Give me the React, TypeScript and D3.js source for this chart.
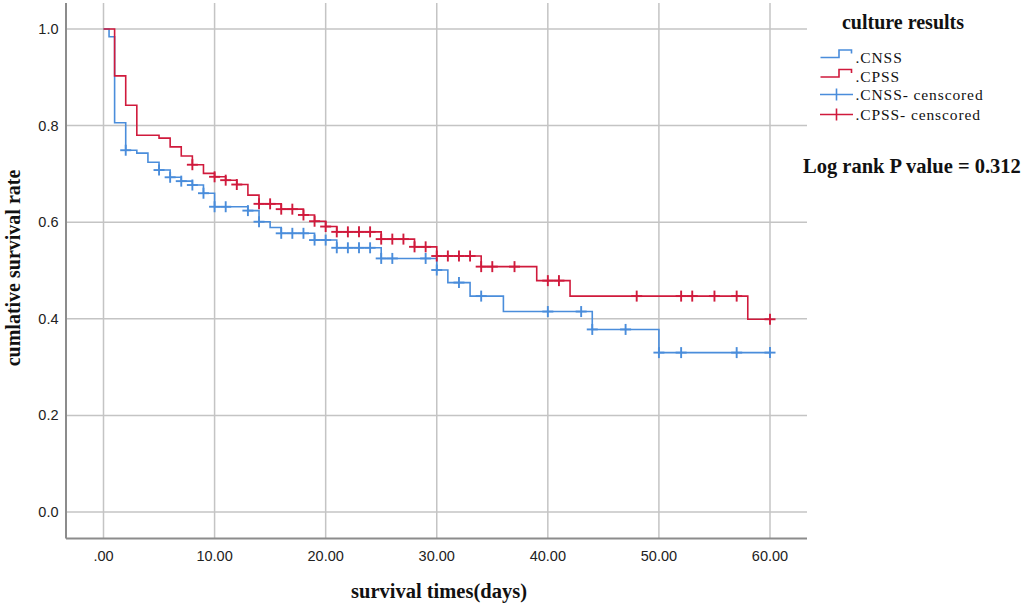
import React from "react";
import * as d3 from "d3";

// CNSS group: step times and survival after each step
const cnssTimes = [0, 0.5, 1, 2, 3, 4, 5, 6, 7, 8, 9, 10, 13, 14, 15, 16, 19, 21, 25, 30, 31, 33, 36, 44, 50];
const cnssSurv = [1.0, 0.984, 0.806, 0.749, 0.743, 0.724, 0.708, 0.693, 0.685, 0.677, 0.66, 0.632, 0.624, 0.601, 0.589, 0.577, 0.563, 0.547, 0.525, 0.501, 0.475, 0.447, 0.415, 0.378, 0.33];
const cnssCensored = [2, 5, 6, 7, 8, 9, 10, 11, 13, 14, 16, 17, 18, 19, 20, 21, 22, 23, 24, 25, 26, 29, 30, 32, 34, 40, 43, 44, 47, 50, 52, 57, 60];

// CPSS group
const cpssTimes = [0, 1, 2, 3, 5, 6, 7, 8, 9, 10, 11, 12, 13, 14, 16, 18, 19, 20, 21, 25, 28, 30, 34, 39, 42, 58];
const cpssSurv = [1.0, 0.903, 0.842, 0.78, 0.774, 0.756, 0.737, 0.719, 0.701, 0.694, 0.687, 0.678, 0.656, 0.638, 0.627, 0.615, 0.602, 0.591, 0.58, 0.565, 0.549, 0.53, 0.508, 0.479, 0.447, 0.399];
const cpssCensored = [8, 10, 11, 12, 14, 15, 16, 17, 18, 19, 20, 21, 22, 23, 24, 25, 26, 27, 28, 29, 30, 31, 32, 33, 34, 35, 37, 40, 41, 48, 52, 53, 55, 57, 60];

const maxTime = 60;
const xTicks = [0, 10, 20, 30, 40, 50, 60];
const yTicks = [0, 0.2, 0.4, 0.6, 0.8, 1.0];
const xTickLabel = (v: number) => (v === 0 ? ".00" : v.toFixed(2));

const BLUE = "#4a8ddb";
const RED = "#d01a3c";

export default function App() {
  const x = d3.scaleLinear().domain([0, 60]).range([103.5, 770]);
  const y = d3.scaleLinear().domain([0, 1]).range([512, 29]);

  const axisLeft = 66;
  const axisBottom = 538.5;
  const plotTop = 3;
  const plotRight = 807;

  const line = d3
    .line<[number, number]>()
    .x((d) => x(d[0]))
    .y((d) => y(d[1]))
    .curve(d3.curveStepAfter);

  const makePts = (t: number[], s: number[]): [number, number][] => {
    const pts = t.map((tt, i) => [tt, s[i]] as [number, number]);
    pts.push([maxTime, s[s.length - 1]]);
    return pts;
  };
  const survAt = (t: number[], s: number[], time: number) => {
    const i = d3.bisectRight(t, time) - 1;
    return s[Math.max(0, i)];
  };

  const groups = [
    { times: cnssTimes, surv: cnssSurv, cens: cnssCensored, color: BLUE },
    { times: cpssTimes, surv: cpssSurv, cens: cpssCensored, color: RED },
  ];

  const legendItems = [
    { label: ".CNSS", color: BLUE, kind: "step" },
    { label: ".CPSS", color: RED, kind: "step" },
    { label: ".CNSS- censcored", color: BLUE, kind: "plus" },
    { label: ".CPSS- censcored", color: RED, kind: "plus" },
  ];
  const legendY = [57.5, 77, 94.5, 114.5];

  return (
    <div style={{ position: "absolute", left: 0, top: 0 }}>
      <svg width={1026} height={605} style={{ display: "block", background: "#fff" }}>
        {/* grid */}
        {xTicks.map((t) => (
          <line key={"gx" + t} x1={x(t)} x2={x(t)} y1={plotTop} y2={axisBottom} stroke="#c4c4c4" strokeWidth={1.5} />
        ))}
        {yTicks.map((t) => (
          <line key={"gy" + t} x1={axisLeft} x2={plotRight} y1={y(t)} y2={y(t)} stroke="#c4c4c4" strokeWidth={1.5} />
        ))}
        {/* axes */}
        <line x1={axisLeft} x2={axisLeft} y1={plotTop} y2={axisBottom} stroke="#8c8c8c" strokeWidth={2} />
        <line x1={axisLeft} x2={plotRight} y1={axisBottom} y2={axisBottom} stroke="#8c8c8c" strokeWidth={2} />
        {/* tick labels */}
        {yTicks.map((t) => (
          <text key={"ty" + t} x={58.5} y={y(t)} dy="0.35em" textAnchor="end" fontFamily="Liberation Sans, Arial, sans-serif" fontSize={14.5} fill="#222">
            {t.toFixed(1)}
          </text>
        ))}
        {xTicks.map((t) => (
          <text key={"tx" + t} x={x(t)} y={561} textAnchor="middle" fontFamily="Liberation Sans, Arial, sans-serif" fontSize={14.5} fill="#222">
            {xTickLabel(t)}
          </text>
        ))}
        {/* axis titles */}
        <text x={439} y={598} textAnchor="middle" fontFamily="Liberation Serif, Times New Roman, serif" fontWeight="bold" fontSize={20.5} fill="#111">
          survival times(days)
        </text>
        <text transform="translate(20,268) rotate(-90)" textAnchor="middle" fontFamily="Liberation Serif, Times New Roman, serif" fontWeight="bold" fontSize={20} fill="#111">
          cumlative survival rate
        </text>
        {/* curves */}
        {groups.map((g, gi) => (
          <g key={"c" + gi}>
            <path d={line(makePts(g.times, g.surv)) || ""} fill="none" stroke={g.color} strokeWidth={1.6} />
            {g.cens.map((c, ci) => {
              const cx = x(c);
              const cy = y(survAt(g.times, g.surv, c));
              return (
                <g key={ci} stroke={g.color} strokeWidth={1.9}>
                  <line x1={cx - 5.5} x2={cx + 5.5} y1={cy} y2={cy} />
                  <line x1={cx} x2={cx} y1={cy - 5.5} y2={cy + 5.5} />
                </g>
              );
            })}
          </g>
        ))}
        {/* legend */}
        <text x={903} y={29} textAnchor="middle" fontFamily="Liberation Serif, Times New Roman, serif" fontWeight="bold" fontSize={20} fill="#111">
          culture results
        </text>
        {legendItems.map((it, i) => {
          const ly = legendY[i];
          return (
            <g key={"l" + i}>
              {it.kind === "step" ? (
                <path d={`M820.5,${ly} H839 V${ly - 7.5} H851.5 V${ly - 4}`} fill="none" stroke={it.color} strokeWidth={1.6} />
              ) : (
                <g stroke={it.color} strokeWidth={1.6}>
                  <line x1={820} x2={853} y1={ly} y2={ly} />
                  <line x1={836.5} x2={836.5} y1={ly - 6} y2={ly + 6} />
                </g>
              )}
              <text x={855.5} y={ly + 5} fontFamily="Liberation Serif, Times New Roman, serif" fontSize={15.5} letterSpacing={0.9} fill="#111">
                {it.label}
              </text>
            </g>
          );
        })}
        <text x={803} y={173} fontFamily="Liberation Serif, Times New Roman, serif" fontWeight="bold" fontSize={20.5} fill="#111">
          Log rank P value = 0.312
        </text>
      </svg>
    </div>
  );
}
